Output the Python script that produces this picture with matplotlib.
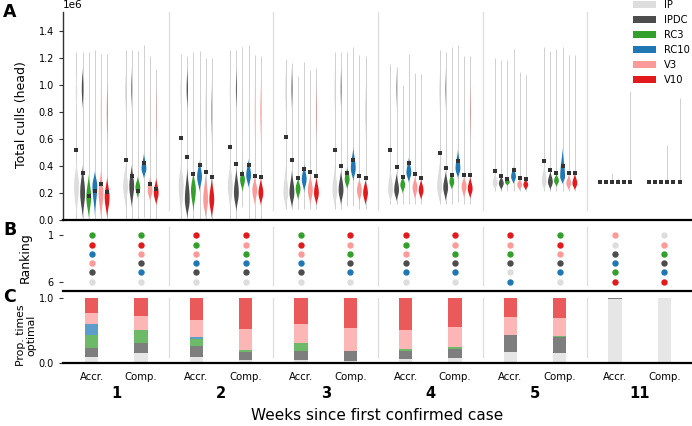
import numpy as np
import matplotlib
matplotlib.use('Agg')
import matplotlib.pyplot as plt
from matplotlib.patches import Patch
import matplotlib.transforms as mtransforms

strategies = ['IP', 'IPDC', 'RC3', 'RC10', 'V3', 'V10']
colors = ['#dddddd', '#4d4d4d', '#33a02c', '#1f78b4', '#fb9a99', '#e31a1c']
week_labels = ['1', '2', '3', '4', '5', '11']
type_labels = ['Accr.', 'Comp.']

# groups: W1 Accr, W1 Comp, W2 Accr, W2 Comp, ... W11 Accr, W11 Comp (values in millions)
cull_max = [
    [1.24, 1.24, 1.24, 1.26, 1.225, 1.225],
    [1.26, 1.26, 1.25, 1.29, 1.215, 1.116],
    [1.227, 1.21, 1.24, 1.25, 1.20, 1.20],
    [1.26, 1.26, 1.28, 1.29, 1.22, 1.215],
    [1.19, 1.16, 1.067, 1.17, 1.11, 1.12],
    [1.24, 1.24, 1.24, 1.28, 1.22, 1.215],
    [1.15, 1.13, 1.00, 1.23, 1.087, 1.08],
    [1.26, 1.24, 1.276, 1.29, 1.215, 1.215],
    [1.20, 1.18, 1.18, 1.264, 1.094, 1.074],
    [1.28, 1.25, 1.264, 1.28, 1.217, 1.217],
    [0.279, 0.279, 0.35, 0.31, 0.279, 0.95],
    [0.279, 0.279, 0.279, 0.556, 0.279, 0.90],
]
cull_min = [
    [0, 0, 0, 0, 0, 0],
    [0, 0, 0, 0.025, 0, 0],
    [0, 0, 0, 0, 0, 0],
    [0, 0, 0.094, 0, 0, 0],
    [0.078, 0.078, 0.078, 0.078, 0.078, 0.078],
    [0.078, 0.078, 0.10, 0.10, 0.078, 0.078],
    [0.117, 0.117, 0.117, 0.117, 0.117, 0.117],
    [0.117, 0.117, 0.117, 0.136, 0.117, 0.117],
    [0.215, 0.215, 0.215, 0.215, 0.215, 0.215],
    [0.215, 0.215, 0.215, 0.215, 0.215, 0.215],
    [0.279, 0.279, 0.279, 0.279, 0.279, 0.279],
    [0.279, 0.279, 0.279, 0.279, 0.279, 0.279],
]
cull_mean = [
    [0.52, 0.346, 0.178, 0.215, 0.267, 0.207],
    [0.44, 0.328, 0.217, 0.42, 0.264, 0.23],
    [0.605, 0.467, 0.34, 0.41, 0.358, 0.32],
    [0.536, 0.415, 0.34, 0.41, 0.328, 0.316],
    [0.612, 0.44, 0.31, 0.378, 0.358, 0.328],
    [0.52, 0.40, 0.346, 0.444, 0.326, 0.31],
    [0.52, 0.395, 0.32, 0.42, 0.338, 0.31],
    [0.494, 0.385, 0.333, 0.437, 0.33, 0.33],
    [0.36, 0.326, 0.306, 0.37, 0.31, 0.30],
    [0.434, 0.37, 0.346, 0.40, 0.346, 0.346],
    [0.279, 0.279, 0.279, 0.279, 0.279, 0.279],
    [0.279, 0.279, 0.279, 0.279, 0.279, 0.279],
]
# main body of each violin: (low end, densest value, high end)
body_lo = [
    [0.0, 0.0, 0.0, 0.02, 0.0, 0.0],
    [0.08, 0.08, 0.15, 0.30, 0.13, 0.10],
    [0.0, 0.0, 0.05, 0.20, 0.0, 0.0],
    [0.05, 0.05, 0.20, 0.23, 0.10, 0.10],
    [0.08, 0.08, 0.14, 0.20, 0.10, 0.10],
    [0.08, 0.10, 0.22, 0.28, 0.12, 0.10],
    [0.12, 0.13, 0.19, 0.27, 0.14, 0.14],
    [0.12, 0.13, 0.22, 0.30, 0.15, 0.15],
    [0.215, 0.215, 0.25, 0.26, 0.215, 0.215],
    [0.215, 0.215, 0.24, 0.26, 0.215, 0.215],
    [0.279, 0.279, 0.279, 0.279, 0.279, 0.279],
    [0.279, 0.279, 0.279, 0.279, 0.279, 0.279],
]
body_peak = [
    [0.25, 0.20, 0.17, 0.25, 0.20, 0.17],
    [0.25, 0.25, 0.24, 0.38, 0.22, 0.20],
    [0.25, 0.15, 0.22, 0.32, 0.15, 0.15],
    [0.25, 0.20, 0.30, 0.33, 0.22, 0.20],
    [0.20, 0.20, 0.23, 0.30, 0.22, 0.20],
    [0.22, 0.22, 0.30, 0.38, 0.22, 0.20],
    [0.22, 0.22, 0.26, 0.35, 0.24, 0.22],
    [0.24, 0.24, 0.28, 0.38, 0.25, 0.23],
    [0.27, 0.27, 0.28, 0.32, 0.26, 0.26],
    [0.28, 0.28, 0.29, 0.32, 0.27, 0.27],
    [0.279, 0.279, 0.279, 0.279, 0.279, 0.279],
    [0.279, 0.279, 0.279, 0.279, 0.279, 0.279],
]
body_hi = [
    [0.45, 0.42, 0.35, 0.37, 0.38, 0.33],
    [0.42, 0.42, 0.33, 0.50, 0.33, 0.32],
    [0.45, 0.40, 0.37, 0.45, 0.36, 0.33],
    [0.45, 0.40, 0.38, 0.46, 0.33, 0.32],
    [0.42, 0.38, 0.32, 0.42, 0.35, 0.33],
    [0.42, 0.38, 0.40, 0.55, 0.32, 0.31],
    [0.40, 0.36, 0.33, 0.47, 0.33, 0.31],
    [0.45, 0.37, 0.36, 0.53, 0.33, 0.33],
    [0.36, 0.33, 0.32, 0.40, 0.31, 0.31],
    [0.42, 0.37, 0.35, 0.55, 0.34, 0.35],
    [0.279, 0.279, 0.279, 0.279, 0.279, 0.279],
    [0.279, 0.279, 0.279, 0.279, 0.279, 0.279],
]
# secondary (upper) mode: centre per strategy, relative height per violin
upper_centre = [0.95, 0.97, 0.0, 0.0, 0.80, 0.80]
upper_half = [0.17, 0.17, 0.0, 0.0, 0.25, 0.25]
upper_weight = [
    [0.30, 0.34, 0, 0, 0.06, 0.10],
    [0.22, 0.14, 0, 0, 0.04, 0.04],
    [0.28, 0.27, 0, 0, 0.06, 0.10],
    [0.22, 0.18, 0, 0, 0.04, 0.06],
    [0.22, 0.18, 0, 0, 0.0, 0.06],
    [0.18, 0.14, 0, 0, 0.0, 0.04],
    [0.15, 0.10, 0, 0, 0.0, 0.0],
    [0.15, 0.10, 0, 0, 0.0, 0.06],
    [0, 0, 0, 0, 0, 0],
    [0, 0, 0, 0, 0, 0],
    [0, 0, 0, 0, 0, 0],
    [0, 0, 0, 0, 0, 0],
]

# Panel B: strategies ordered from rank 1 to rank 6
rankings = [
    ['RC3', 'V10', 'RC10', 'V3', 'IPDC', 'IP'],
    ['RC3', 'V10', 'V3', 'IPDC', 'RC10', 'IP'],
    ['V10', 'RC3', 'V3', 'RC10', 'IPDC', 'IP'],
    ['V10', 'V3', 'RC3', 'RC10', 'IPDC', 'IP'],
    ['RC3', 'V10', 'V3', 'RC10', 'IPDC', 'IP'],
    ['V10', 'V3', 'RC3', 'IPDC', 'RC10', 'IP'],
    ['V10', 'RC3', 'V3', 'IPDC', 'RC10', 'IP'],
    ['V10', 'V3', 'RC3', 'IPDC', 'RC10', 'IP'],
    ['V10', 'V3', 'RC3', 'IPDC', 'IP', 'RC10'],
    ['RC3', 'V10', 'V3', 'IPDC', 'RC10', 'IP'],
    ['V3', 'IP', 'IPDC', 'RC10', 'RC3', 'V10'],
    ['IP', 'V3', 'RC3', 'IPDC', 'RC10', 'V10'],
]

# Panel C: proportion of times optimal (stack order IP, IPDC, RC3, RC10, V3, V10)
prop_optimal = [
    [0.08, 0.15, 0.20, 0.165, 0.17, 0.235],
    [0.155, 0.145, 0.20, 0.0, 0.22, 0.28],
    [0.09, 0.17, 0.105, 0.025, 0.265, 0.345],
    [0.04, 0.13, 0.025, 0.0, 0.32, 0.485],
    [0.04, 0.14, 0.12, 0.0, 0.295, 0.405],
    [0.03, 0.155, 0.0, 0.0, 0.355, 0.46],
    [0.05, 0.135, 0.03, 0.0, 0.29, 0.495],
    [0.067, 0.15, 0.02, 0.0, 0.317, 0.446],
    [0.165, 0.255, 0.0, 0.0, 0.29, 0.29],
    [0.155, 0.245, 0.01, 0.0, 0.28, 0.31],
    [0.975, 0.02, 0.0, 0.0, 0.0, 0.005],
    [0.99, 0.01, 0.0, 0.0, 0.0, 0.0],
]

# ---------------------------------------------------------------
fig = plt.figure(figsize=(6.92, 4.26), dpi=100)
L, W = 0.091, 0.909
axA = fig.add_axes([L, 0.4836, W, 0.489])
axB = fig.add_axes([L, 0.3169, W, 0.1526])
axC = fig.add_axes([L, 0.1486, W, 0.1526])

XL = (-0.51, 5.5)
half_gap = 0.2345
step = 0.0585
n_groups = len(cull_max)
group_x = [(g // 2) + (-half_gap if g % 2 == 0 else half_gap) for g in range(n_groups)]


def bump(y, lo, pk, hi):
    w = np.zeros_like(y)
    m = (y >= lo) & (y <= pk)
    if pk > lo:
        w[m] = 0.5 * (1 - np.cos(np.pi * (y[m] - lo) / (pk - lo)))
    m2 = (y > pk) & (y <= hi)
    if hi > pk:
        w[m2] = 0.5 * (1 + np.cos(np.pi * (y[m2] - pk) / (hi - pk)))
    return w


for ax in (axA, axB, axC):
    ax.set_xlim(*XL)
    for s in ('top', 'right'):
        ax.spines[s].set_visible(False)
    ax.spines['bottom'].set_linewidth(1.6)
    ax.spines['bottom'].set_color('black')

# separators
for w in range(5):
    axA.axvline(w + 0.5, ymin=0.05, ymax=1.0, color='#dddddd', lw=0.9, zorder=0)
    axB.axvline(w + 0.5, ymin=0.09, ymax=0.98, color='#dddddd', lw=0.9, zorder=0)
    axC.axvline(w + 0.5, ymin=0.09, ymax=1.0, color='#dddddd', lw=0.9, zorder=0)

# Panel A: violins
for g in range(n_groups):
    for k in range(6):
        x = group_x[g] + (k - 2.5) * step
        ymin, ymax = cull_min[g][k], cull_max[g][k]
        axA.plot([x, x], [ymin * 1e6, ymax * 1e6], color='#d0d0d0', lw=0.7,
                 zorder=1, solid_capstyle='butt')
        lo, pk, hi = body_lo[g][k], body_peak[g][k], body_hi[g][k]
        if hi > lo:
            uw = upper_weight[g][k]
            top = hi
            if uw > 0:
                top = max(hi, upper_centre[k] + upper_half[k])
            yy = np.linspace(lo, top, 200)
            ww = bump(yy, lo, pk, hi)
            if uw > 0:
                c, h = upper_centre[k], upper_half[k]
                ww = ww + uw * bump(yy, c - h, c, c + h)
            stats = [{'coords': yy * 1e6, 'vals': ww, 'mean': cull_mean[g][k] * 1e6,
                      'median': pk * 1e6, 'min': ymin * 1e6, 'max': ymax * 1e6}]
            parts = axA.violin(stats, positions=[x], widths=0.046, showmeans=False,
                               showextrema=False, showmedians=False)
            for b in parts['bodies']:
                b.set_facecolor(colors[k])
                b.set_edgecolor('none')
                b.set_alpha(1)
                b.set_zorder(2)
        axA.plot([x], [cull_mean[g][k] * 1e6], marker='s', ms=2.2, color='#333333',
                 zorder=5, linestyle='none', markeredgewidth=0)

axA.set_ylim(0, 1.54e6)
axA.set_yticks(np.arange(0, 1.41e6, 0.2e6))
axA.tick_params(axis='y', labelsize=7, length=3, width=0.8, color='#333333')
axA.tick_params(axis='x', bottom=False, labelbottom=False)
axA.spines['left'].set_color('#333333')
axA.spines['left'].set_linewidth(1.0)
axA.yaxis.get_offset_text().set_fontsize(7.5)

handles = [Patch(facecolor=c, edgecolor='none') for c in colors]
fig.legend(handles, strategies, loc='upper left', bbox_to_anchor=(633 / 692, 1.0),
           bbox_transform=fig.transFigure, frameon=False, fontsize=7.2,
           handlelength=2.3, handleheight=0.75, handletextpad=0.8,
           labelspacing=0.5, borderpad=0, borderaxespad=0)

# Panel B: ranking dots
for g in range(n_groups):
    for r, name in enumerate(rankings[g]):
        k = strategies.index(name)
        axB.plot([group_x[g]], [r + 1], marker='o', ms=4.6, color=colors[k],
                 linestyle='none', zorder=3, markeredgewidth=0)
axB.set_ylim(7, 0)
axB.set_yticks([1, 6])
axB.tick_params(axis='y', labelsize=7, length=3, width=0.8, color='#333333')
axB.tick_params(axis='x', bottom=False, labelbottom=False)
axB.spines['left'].set_visible(False)

# Panel C: stacked bars
bar_w = 0.127
bottoms = np.zeros(n_groups)
for k in range(6):
    vals = np.array([prop_optimal[g][k] for g in range(n_groups)])
    axC.bar(group_x, vals, width=bar_w, bottom=bottoms, color=colors[k], alpha=0.72,
            edgecolor='none', zorder=2)
    bottoms += vals
axC.set_ylim(0, 1.0)
axC.set_yticks([0, 1])
axC.set_yticklabels(['0.0', '1.0'])
axC.tick_params(axis='y', labelsize=7, length=3, width=0.8, color='#333333')
axC.spines['left'].set_visible(False)
axC.set_xticks(group_x)
axC.set_xticklabels([type_labels[g % 2] for g in range(n_groups)])
axC.tick_params(axis='x', labelsize=7.3, length=0, pad=7)

trans = mtransforms.blended_transform_factory(axC.transData, axC.transAxes)
for w, lab in enumerate(week_labels):
    axC.text(w, -0.47, lab, transform=trans, ha='center', va='center',
             fontsize=10.5, fontweight='bold')

fig.text(0.545, 0.024, 'Weeks since first confirmed case', ha='center', va='center',
         fontsize=11)

fig.text(22 / 692, 1 - 115 / 426, 'Total culls (head)', rotation=90, ha='center',
         va='center', fontsize=9)
fig.text(25 / 692, 1 - 258 / 426, 'Ranking', rotation=90, ha='center', va='center',
         fontsize=9)
fig.text(26.5 / 692, 1 - 335 / 426, 'Prop. times\noptimal', rotation=90, ha='center',
         va='center', fontsize=7.8, linespacing=1.0)

for lab, ypx in (('A', 12), ('B', 230), ('C', 297)):
    fig.text(3 / 692, 1 - ypx / 426, lab, ha='left', va='center', fontsize=12.5,
             fontweight='bold')

fig.savefig('out.png', dpi=100)
